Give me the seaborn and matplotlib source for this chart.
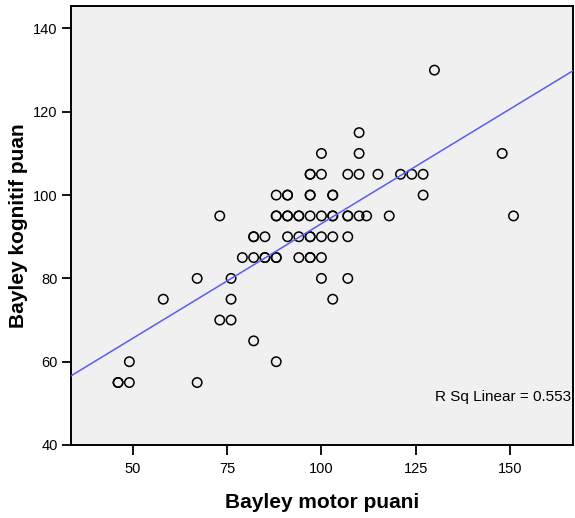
import numpy as np
import pandas as pd
import matplotlib
matplotlib.use("Agg")
import matplotlib.pyplot as plt
import seaborn as sns

# Bayley motor (x) and cognitive (y) scores, listed row by row of cognitive score
motor = [
    130,
    110,
    100, 110, 148,
    97, 97, 100, 107, 110, 115, 121, 124, 127,
    88, 91, 91, 97, 97, 103, 103, 127,
    73, 88, 88, 91, 91, 94, 94, 97, 100, 103, 103, 107, 107, 110, 112, 118, 151,
    82, 82, 85, 91, 94, 97, 97, 100, 103, 107,
    79, 82, 85, 85, 88, 88, 94, 97, 97, 100,
    67, 76, 100, 107,
    58, 76, 103,
    73, 76,
    82,
    49, 88,
    46, 46, 49, 67,
]
cognitive = (
    [130] * 1 + [115] * 1 + [110] * 3 + [105] * 9 + [100] * 8 + [95] * 17
    + [90] * 10 + [85] * 10 + [80] * 4 + [75] * 3 + [70] * 2 + [65] * 1
    + [60] * 2 + [55] * 4
)

x_ticks = [50, 75, 100, 125, 150]
y_ticks = [40, 60, 80, 100, 120, 140]
x_label = "Bayley motor puani"
y_label = "Bayley kognitif puan"
fit_note = "R Sq Linear = 0.553"

df = pd.DataFrame({"motor": motor, "cognitive": cognitive})

sns.set_style("white")
plt.rcParams["font.family"] = ["Liberation Sans", "DejaVu Sans"]
plt.rcParams["text.color"] = "black"
plt.rcParams["axes.labelcolor"] = "black"

fig = plt.figure(figsize=(5.75, 5.18), dpi=100)
ax = fig.add_axes([71 / 575, 73 / 518, 502 / 575, 439 / 518])
ax.set_facecolor("#f0f0f0")
ax.set_xlim(33.5, 166.8)
ax.set_ylim(40, 145.4)

sns.regplot(
    data=df, x="motor", y="cognitive", ax=ax, ci=None, truncate=False,
    scatter_kws=dict(facecolors="none", edgecolors="black", s=46,
                     linewidths=1.1, alpha=1, zorder=2),
    line_kws=dict(color="#5c5cf5", lw=1.1, zorder=3),
)
ax.set_xlim(33.5, 166.8)
ax.set_ylim(40, 145.4)

ax.set_xticks(x_ticks)
ax.set_yticks(y_ticks)
ax.tick_params(axis="x", direction="out", length=7.5, width=1.3, pad=5,
               labelsize=10.5, colors="black", bottom=True)
ax.tick_params(axis="y", direction="out", length=6.5, width=1.3, pad=3,
               labelsize=10.5, colors="black", left=True)

for side, sp in ax.spines.items():
    sp.set_visible(True)
    sp.set_color("black")
    sp.set_linewidth(1.4)

ax.set_xlabel(x_label, fontsize=15, fontweight="bold", labelpad=12, color="black")
ax.set_ylabel(y_label, fontsize=15, fontweight="bold", labelpad=4, color="black")

ax.text(130.2, 51.5, fit_note, ha="left", va="center", fontsize=11,
        color="black", clip_on=True)

fig.savefig("out.png", dpi=100)
